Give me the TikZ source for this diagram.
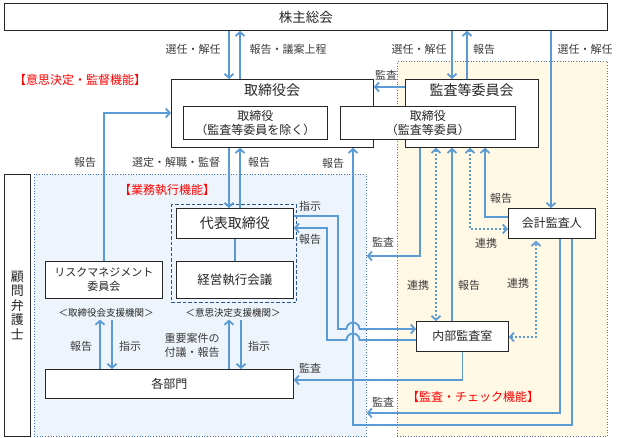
\documentclass[tikz,border=0pt]{standalone}
\usepackage{fontspec}
\setmainfont{Noto Sans CJK JP}
\usetikzlibrary{arrows.meta}
\definecolor{lineblue}{RGB}{91,155,213}
\definecolor{execfill}{RGB}{238,244,251}
\definecolor{auditfill}{RGB}{255,248,229}
\definecolor{dashblue}{RGB}{47,84,150}
\definecolor{edgeblue}{RGB}{68,114,196}
\definecolor{txt}{RGB}{38,38,38}

\begin{document}
\begin{tikzpicture}[x=1pt, y=-1pt,
  box/.style={draw=txt, fill=white, line width=0.8pt, anchor=north west, inner sep=0pt, align=center, text=txt, font=\fontsize{12}{14}\selectfont},
  area/.style={anchor=north west, inner sep=0pt, line width=0.7pt, dotted},
  head/.style={text=txt, font=\fontsize{14}{16}\selectfont},
  lbl/.style={text=txt!90, inner sep=1pt, font=\fontsize{11}{14}\selectfont},
  sup/.style={text=txt, inner sep=2pt, font=\fontsize{9.5}{11}\selectfont},
  redlbl/.style={text=red, font=\fontsize{12}{14}\selectfont},
  tip/.style={Straight Barb[length=4pt, width=9pt]},
  flow/.style={draw=lineblue, line width=1.8pt, -{Straight Barb[length=4pt, width=9pt]}},
  link/.style={draw=lineblue, line width=1.8pt, dash pattern=on 1.8pt off 2.2pt, {Straight Barb[length=4pt, width=9pt]}-{Straight Barb[length=4pt, width=9pt]}},
  hop/.style={start angle=#1, end angle=180-#1, radius=6.5pt}]

\useasboundingbox (0,0) rectangle (624,437);

\node[area, draw=edgeblue, fill=execfill, minimum width=332, minimum height=262] (exec) at (34,174) {};
\node[area, draw=edgeblue!60!gray, fill=auditfill, minimum width=210, minimum height=375] (check) at (397,61) {};

\node[box, minimum width=603, minimum height=27, font=\fontsize{13.5}{16}\selectfont] (kabu) at (4,3) {株主総会};
\node[box, minimum width=202, minimum height=68] (board) at (171,79) {};
\node[head] (boardT) at (272,90) {取締役会};
\node[box, minimum width=133, minimum height=68] (acom) at (405,79) {};
\node[head] (acomT) at (471.5,90) {監査等委員会};
\node[box, minimum width=144, minimum height=33] (dirA) at (183,106) {取締役\\（監査等委員を除く）};
\node[box, minimum width=175, minimum height=33] (dirB) at (340,106) {取締役\\（監査等委員）};

\node[box, minimum width=26, minimum height=262, font=\fontsize{13}{14.5}\selectfont] (lawyer) at (4,174) {顧\\問\\弁\\護\\士};
\node[area, draw=dashblue, fill=none, solid, dash pattern=on 3.5pt off 2pt, line width=1pt, minimum width=125, minimum height=98] (support) at (171,204) {};
\node[box, minimum width=117, minimum height=30, font=\fontsize{14}{16}\selectfont] (ceo) at (176,208) {代表取締役};
\node[box, minimum width=117, minimum height=37, font=\fontsize{12.5}{15}\selectfont] (mgmt) at (176,261) {経営執行会議};
\node[box, minimum width=117, minimum height=37, font=\fontsize{11}{14}\selectfont] (risk) at (45,261) {リスクマネジメント\\委員会};
\node[box, minimum width=248, minimum height=29] (dept) at (45,369) {各部門};
\node[box, minimum width=92, minimum height=30] (audit) at (416,321) {内部監査室};
\node[box, minimum width=87, minimum height=30] (cpa) at (508,208) {会計監査人};

\node[sup] (boardsup) at (106,313) {＜取締役会支援機関＞};
\node[sup] (decsup) at (233,313) {＜意思決定支援機関＞};
\node[redlbl] (r1) at (80,80) {【意思決定・監督機能】};
\node[redlbl] (r2) at (167,190) {【業務執行機能】};
\node[redlbl] (r3) at (473,397) {【監査・チェック機能】};

\draw[flow] (kabu.south -| 229,0) -- (board.north -| 229,0);
\draw[flow] (board.north -| 240,0) -- (kabu.south -| 240,0);
\draw[flow] (kabu.south -| 452,0) -- (acom.north -| 452,0);
\draw[flow] (acom.north -| 467,0) -- (kabu.south -| 467,0);
\draw[flow] (kabu.south -| 551,0) -- (cpa.north -| 551,0);
\draw[flow] (acom.west |- 0,87) -- (board.east |- 0,87);
\draw[flow] (risk.north) |- (board.west |- 0,113);
\draw[flow] (board.south -| 229,0) -- (ceo.north -| 229,0);
\draw[flow] (ceo.north -| 240,0) -- (board.south -| 240,0);
\draw[draw=lineblue, line width=1.8pt] (ceo) -- (mgmt);

\draw[flow] (ceo.east |- 0,216) -| (338,329) -- (346.5,329) arc[hop=180] -- (audit.west |- 0,329);
\draw[flow] (audit.west |- 0,340) -- (359.5,340) arc[hop=0] -- (327,340) |- (ceo.east |- 0,228);
\draw[flow] (audit.south) |- (dept.east |- 0,380);
\draw[flow] (acom.south -| 420,0) |- (exec.east |- 0,256);
\draw[flow] (cpa.south -| 572,0) |- (353,425) -- (board.south -| 353,0);
\draw[flow] (cpa.south -| 560,0) |- (exec.east |- 0,413);
\draw[flow] (audit.north -| 452,0) -- (acom.south -| 452,0);
\draw[flow] (cpa.west |- 0,217) -| (acom.south -| 485,0);
\draw[link] (acom.south -| 436,0) -- (audit.north -| 436,0);
\draw[link] (acom.south -| 470,0) |- (cpa.west |- 0,229);
\draw[link, shorten <=0pt, shorten >=2pt] (audit.east |- 0,337) -| (cpa.south -| 536,0);

\draw[flow] (dept.north -| 100,0) -- (boardsup.south -| 100,0);
\draw[flow] (boardsup.south -| 112,0) -- (dept.north -| 112,0);
\draw[flow] (dept.north -| 229,0) -- (decsup.south -| 229,0);
\draw[flow] (decsup.south -| 241,0) -- (dept.north -| 241,0);

\node[lbl] (a1) at (193,49) {選任・解任};
\node[lbl] (a2) at (288,49) {報告・議案上程};
\node[lbl] (a3) at (419,49) {選任・解任};
\node[lbl] (a4) at (484,49) {報告};
\node[lbl] (a5) at (585,49) {選任・解任};
\node[lbl] (a6) at (386,75) {監査};
\node[lbl] (b1) at (85,162) {報告};
\node[lbl] (b2) at (176,162) {選定・解職・監督};
\node[lbl] (b3) at (259,162) {報告};
\node[lbl] (b4) at (333,163) {報告};
\node[lbl] (c1) at (310,206) {指示};
\node[lbl] (c2) at (310,239) {報告};
\node[lbl] (c3) at (383,242) {監査};
\node[lbl] (c4) at (486,243) {連携};
\node[lbl] (c5) at (501,198) {報告};
\node[lbl] (d1) at (418,285) {連携};
\node[lbl] (d2) at (469,285) {報告};
\node[lbl] (d3) at (518,283) {連携};
\node[lbl] (e1) at (310,368) {監査};
\node[lbl] (e2) at (383,402) {監査};
\node[lbl] (e3) at (81,346) {報告};
\node[lbl] (e4) at (130,346) {指示};
\node[lbl, align=center] (e5) at (192,345) {重要案件の\\付議・報告};
\node[lbl] (e6) at (259,346) {指示};

\end{tikzpicture}
\end{document}
